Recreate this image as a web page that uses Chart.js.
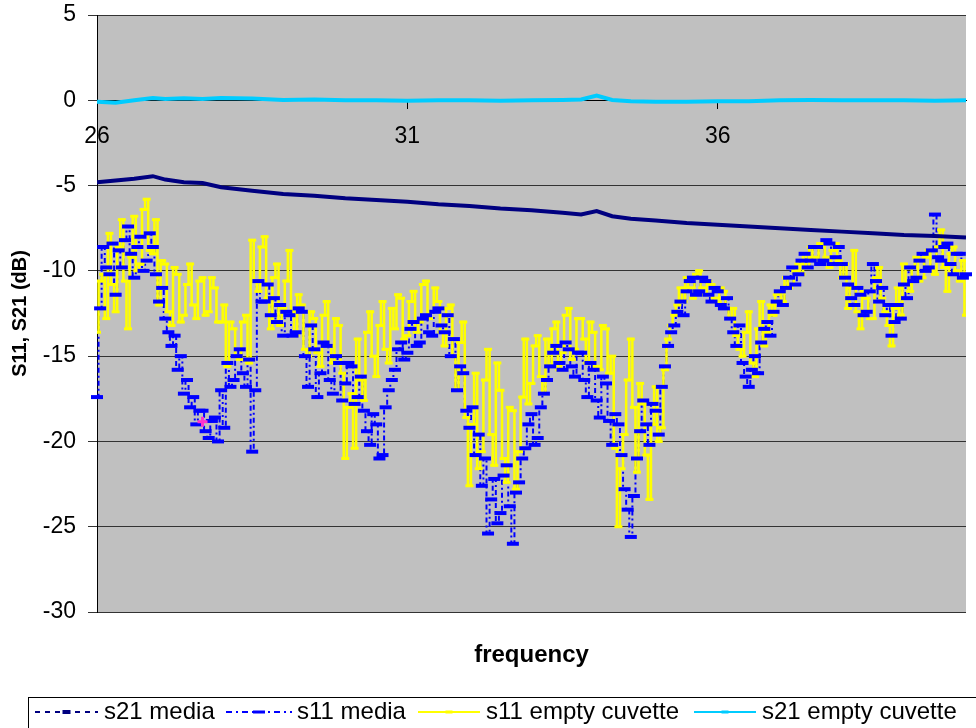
<!DOCTYPE html>
<html>
<head>
<meta charset="utf-8">
<script src="https://cdn.jsdelivr.net/npm/chart.js@4/dist/chart.umd.min.js"></script>
<style>
  html, body { margin: 0; padding: 0; background: #fff; }
  #wrap { width: 976px; height: 728px; }
</style>
</head>
<body>
<div id="wrap"><canvas id="c" width="976" height="728"></canvas></div>
<script>
// Sweep frequencies (GHz) for the reflection traces, one row per GHz
const freq = [
  26.00,26.05,26.10,26.15,26.20,26.25,26.30,26.35,26.40,26.45,26.50,26.55,26.60,26.65,26.70,26.75,26.80,26.85,26.90,26.95,
  27.00,27.05,27.10,27.15,27.20,27.25,27.30,27.35,27.40,27.45,27.50,27.55,27.60,27.65,27.70,27.75,27.80,27.85,27.90,27.95,
  28.00,28.05,28.10,28.15,28.20,28.25,28.30,28.35,28.40,28.45,28.50,28.55,28.60,28.65,28.70,28.75,28.80,28.85,28.90,28.95,
  29.00,29.05,29.10,29.15,29.20,29.25,29.30,29.35,29.40,29.45,29.50,29.55,29.60,29.65,29.70,29.75,29.80,29.85,29.90,29.95,
  30.00,30.05,30.10,30.15,30.20,30.25,30.30,30.35,30.40,30.45,30.50,30.55,30.60,30.65,30.70,30.75,30.80,30.85,30.90,30.95,
  31.00,31.05,31.10,31.15,31.20,31.25,31.30,31.35,31.40,31.45,31.50,31.55,31.60,31.65,31.70,31.75,31.80,31.85,31.90,31.95,
  32.00,32.05,32.10,32.15,32.20,32.25,32.30,32.35,32.40,32.45,32.50,32.55,32.60,32.65,32.70,32.75,32.80,32.85,32.90,32.95,
  33.00,33.05,33.10,33.15,33.20,33.25,33.30,33.35,33.40,33.45,33.50,33.55,33.60,33.65,33.70,33.75,33.80,33.85,33.90,33.95,
  34.00,34.05,34.10,34.15,34.20,34.25,34.30,34.35,34.40,34.45,34.50,34.55,34.60,34.65,34.70,34.75,34.80,34.85,34.90,34.95,
  35.00,35.05,35.10,35.15,35.20,35.25,35.30,35.35,35.40,35.45,35.50,35.55,35.60,35.65,35.70,35.75,35.80,35.85,35.90,35.95,
  36.00,36.05,36.10,36.15,36.20,36.25,36.30,36.35,36.40,36.45,36.50,36.55,36.60,36.65,36.70,36.75,36.80,36.85,36.90,36.95,
  37.00,37.05,37.10,37.15,37.20,37.25,37.30,37.35,37.40,37.45,37.50,37.55,37.60,37.65,37.70,37.75,37.80,37.85,37.90,37.95,
  38.00,38.05,38.10,38.15,38.20,38.25,38.30,38.35,38.40,38.45,38.50,38.55,38.60,38.65,38.70,38.75,38.80,38.85,38.90,38.95,
  39.00,39.05,39.10,39.15,39.20,39.25,39.30,39.35,39.40,39.45,39.50,39.55,39.60,39.65,39.70,39.75,39.80,39.85,39.90,39.95,
  40.00
];

// s11 with media in the cuvette (dB)
const s11Media = [
  -17.4,-12.2,-8.6,-9.8,-10.2,-8.4,-11.4,-8.8,-9.8,-8.2,-7.4,-9.0,-10.4,-8.6,-8.0,-10.0,-9.4,-7.8,-8.6,-10.2,
  -11.8,-11.0,-12.8,-13.6,-14.4,-13.8,-15.8,-15.0,-17.2,-16.4,-18.0,-17.4,-19.0,-18.2,-18.2,-19.4,-19.8,-18.8,-18.6,-20.0,
  -17.0,-19.2,-15.4,-16.8,-16.4,-15.0,-14.6,-16.0,-16.8,-15.2,-20.6,-17.0,-10.6,-11.8,-11.8,-10.8,-12.6,-11.6,-13.0,-12.0,
  -13.8,-12.4,-12.6,-13.8,-13.6,-12.2,-12.4,-15.0,-16.8,-13.2,-14.6,-17.4,-16.0,-14.2,-14.4,-16.4,-17.2,-15.0,-15.4,-17.6,
  -16.6,-15.4,-15.6,-17.8,-17.4,-16.2,-18.2,-19.4,-20.2,-18.4,-19.0,-21.0,-20.8,-18.0,-17.0,-16.4,-15.8,-14.6,-14.2,-15.2,
  -14.8,-13.4,-13.0,-14.4,-14.2,-12.8,-12.6,-13.6,-13.8,-12.4,-12.2,-13.2,-13.6,-12.6,-15.0,-14.0,-17.0,-15.6,-16.0,-18.2,
  -19.2,-18.0,-20.8,-19.6,-22.6,-21.0,-25.4,-23.4,-22.2,-24.8,-24.2,-22.0,-21.4,-23.8,-26.0,-23.0,-22.4,-21.0,-20.4,-19.0,
  -18.4,-20.2,-19.8,-18.0,-17.2,-16.4,-15.6,-14.8,-14.4,-15.4,-15.8,-14.2,-14.6,-15.6,-16.2,-14.8,-14.8,-16.4,-17.4,-15.4,
  -15.8,-17.6,-18.6,-16.2,-16.6,-18.8,-20.2,-18.4,-19.0,-20.8,-22.8,-24.0,-25.6,-23.2,-21.0,-19.4,-17.6,-19.0,-20.2,-17.8,
  -18.2,-19.6,-16.8,-15.6,-14.4,-13.6,-13.2,-12.4,-11.8,-12.6,-11.2,-10.6,-10.4,-11.4,-11.2,-10.4,-10.6,-11.4,-11.8,-11.0,
  -11.2,-12.0,-12.2,-11.6,-12.8,-13.6,-14.4,-13.2,-15.4,-16.2,-16.8,-15.8,-15.0,-16.0,-14.2,-13.4,-13.0,-13.8,-12.4,-11.8,
  -11.2,-12.0,-11.0,-10.4,-9.8,-10.8,-10.2,-9.4,-9.0,-9.8,-9.4,-8.6,-8.6,-9.6,-9.4,-8.2,-8.4,-9.6,-9.2,-8.6,
  -9.6,-10.4,-10.8,-11.6,-12.0,-11.0,-11.4,-12.6,-12.4,-11.2,-9.6,-10.6,-11.8,-11.0,-12.6,-12.0,-13.8,-13.0,-12.0,-12.8,
  -10.8,-11.6,-9.8,-10.6,-10.4,-9.4,-9.0,-10.0,-9.8,-8.8,-6.7,-9.2,-9.4,-8.6,-8.4,-9.6,-10.2,-9.0,-9.0,-10.4,
  -10.2
];

// s11 with the empty cuvette (dB)
const s11Empty = [
  -13.6,-10.6,-10.2,-12.8,-7.8,-10.8,-12.4,-8.6,-7.0,-10.6,-13.4,-9.2,-6.8,-10.0,-9.6,-6.4,-5.8,-8.8,-9.0,-7.0,
  -12.0,-9.4,-9.6,-12.4,-13.2,-9.8,-10.2,-13.0,-12.6,-10.8,-9.6,-12.0,-12.8,-10.6,-10.4,-12.6,-12.4,-10.4,-11.0,-13.0,
  -13.0,-12.0,-15.6,-13.0,-13.4,-15.0,-15.2,-13.0,-12.6,-15.4,-8.2,-10.6,-11.2,-8.6,-8.0,-11.6,-13.4,-10.4,-9.6,-13.2,
  -12.2,-10.6,-8.8,-12.4,-13.8,-11.4,-12.0,-14.6,-15.0,-12.4,-12.8,-14.8,-15.6,-12.6,-11.8,-14.4,-15.4,-12.8,-13.2,-16.0,
  -21.0,-18.0,-17.2,-20.4,-14.0,-16.4,-17.6,-13.6,-12.4,-15.0,-16.2,-13.2,-11.8,-14.6,-15.4,-12.2,-13.4,-11.4,-11.6,-14.0,
  -13.8,-11.8,-11.2,-13.6,-13.0,-10.8,-10.6,-12.8,-12.4,-11.0,-11.8,-13.6,-14.4,-12.2,-12.0,-15.0,-17.0,-14.2,-13.0,-18.6,
  -22.6,-19.0,-16.0,-21.6,-20.6,-16.4,-14.6,-19.6,-21.4,-15.4,-17.0,-21.0,-22.4,-18.0,-18.2,-22.8,-20.6,-17.4,-14.0,-17.8,
  -16.6,-14.4,-13.8,-16.2,-17.2,-14.0,-15.6,-13.4,-13.0,-15.8,-14.8,-12.6,-12.2,-15.2,-14.6,-12.8,-12.8,-14.0,-15.4,-13.0,
  -13.6,-15.6,-15.8,-13.2,-13.4,-16.0,-15.0,-20.4,-25.0,-21.6,-19.6,-16.4,-14.0,-18.0,-21.8,-16.6,-17.8,-20.8,-23.4,-19.0,
  -16.8,-20.0,-19.2,-15.8,-14.0,-13.2,-12.6,-12.0,-11.0,-11.8,-10.4,-11.0,-11.6,-10.2,-10.0,-11.0,-11.4,-10.6,-10.8,-11.6,
  -11.8,-11.0,-11.2,-12.2,-12.8,-12.2,-13.8,-14.6,-15.0,-13.6,-12.4,-15.4,-16.2,-13.4,-11.8,-14.4,-13.6,-12.0,-12.6,-11.4,
  -11.2,-11.8,-10.4,-11.0,-10.8,-10.0,-9.6,-10.2,-9.0,-9.8,-8.6,-9.2,-9.4,-8.4,-8.4,-9.2,-9.8,-8.8,-8.4,-9.4,
  -10.4,-9.6,-12.2,-11.0,-8.8,-12.4,-13.4,-11.2,-11.6,-12.8,-12.8,-10.4,-9.8,-11.6,-12.4,-13.2,-14.4,-12.2,-11.0,-12.6,
  -9.6,-10.8,-11.2,-9.8,-9.2,-10.6,-10.4,-9.2,-8.8,-10.0,-10.2,-8.6,-7.6,-9.8,-11.2,-9.0,-8.6,-10.0,-10.6,-9.4,
  -12.6
];

// Transmission traces are smooth, so a coarser sweep is enough
const transFreq = [
  26.0,26.3,26.6,26.9,27.1,27.4,27.7,28.0,28.5,29.0,
  29.5,30.0,30.5,31.0,31.5,32.0,32.5,33.0,33.5,33.8,
  34.05,34.3,34.6,35.0,35.5,36.0,36.5,37.0,37.5,38.0,
  38.5,39.0,39.5,40.0
];
const s21Media = [
  -4.8,-4.7,-4.6,-4.45,-4.65,-4.8,-4.85,-5.1,-5.3,-5.5,
  -5.6,-5.75,-5.85,-5.95,-6.1,-6.2,-6.35,-6.45,-6.6,-6.7,
  -6.5,-6.8,-6.95,-7.05,-7.2,-7.3,-7.4,-7.5,-7.6,-7.7,
  -7.8,-7.9,-7.95,-8.05
];
const s21Empty = [
  -0.08,-0.15,0.0,0.13,0.08,0.12,0.08,0.13,0.1,0.02,
  0.05,0.0,0.0,-0.02,0.0,0.0,-0.02,0.0,0.02,0.05,
  0.28,0.02,-0.05,-0.08,-0.08,-0.05,-0.05,0.0,0.02,0.0,
  0.0,0.0,-0.02,0.0
];

// Single highlighted reading on the s11 media trace
const flagged = [{ x: 27.7, y: -18.85 }];

const xTicks = [26, 31, 36];
const yMin = -30, yMax = 5, yStep = 5;

const FONT = 'Liberation Sans, Arial, Helvetica, sans-serif';
Chart.defaults.font.family = FONT;
Chart.defaults.color = '#000';

const pts = (xs, ys) => xs.map((x, i) => ({ x, y: ys[i] }));

// Legend entries: colour, dash pattern, marker size and placement
const legendItems = [
  { text: 's21 media', color: '#000080', dash: [5, 5], width: 2, mark: [8, 4], x0: 35, x1: 98, tx: 104 },
  { text: 's11 media', color: '#0000FF', dash: [6, 4, 2, 4], width: 2, mark: [12, 3], x0: 226, x1: 292, tx: 297 },
  { text: 's11 empty cuvette', color: '#FFFF00', dash: [], width: 2, mark: [7, 3], x0: 418, x1: 480, tx: 486 },
  { text: 's21 empty cuvette', color: '#00CCFF', dash: [], width: 2, mark: [7, 3], x0: 694, x1: 756, tx: 762 }
];

const framePlugin = {
  id: 'frame',
  beforeDraw(chart) {
    const { ctx, chartArea: a } = chart;
    ctx.save();
    ctx.fillStyle = '#fff';
    ctx.fillRect(0, 0, chart.width, chart.height);
    ctx.fillStyle = '#C0C0C0';
    ctx.fillRect(a.left, a.top, a.right - a.left, a.bottom - a.top);
    ctx.restore();
  },
  afterDraw(chart) {
    const { ctx, chartArea: a } = chart;
    ctx.save();
    // x-axis title
    ctx.fillStyle = '#000';
    ctx.font = 'bold 24px ' + FONT;
    ctx.textAlign = 'center';
    ctx.textBaseline = 'middle';
    ctx.fillText('frequency', (a.left + a.right) / 2, 655);

    // legend box
    ctx.strokeStyle = '#000';
    ctx.lineWidth = 1;
    ctx.strokeRect(28.5, 697.5, 1000, 60);
    const ly = 712;
    ctx.font = '24px ' + FONT;
    ctx.textAlign = 'left';
    legendItems.forEach(it => {
      ctx.strokeStyle = it.color;
      ctx.lineWidth = it.width;
      ctx.setLineDash(it.dash);
      ctx.beginPath();
      ctx.moveTo(it.x0, ly);
      ctx.lineTo(it.x1, ly);
      ctx.stroke();
      ctx.setLineDash([]);
      ctx.fillStyle = it.color;
      const cx = (it.x0 + it.x1) / 2;
      ctx.fillRect(cx - it.mark[0] / 2, ly - it.mark[1] / 2, it.mark[0], it.mark[1]);
      ctx.fillStyle = '#000';
      ctx.fillText(it.text, it.tx, ly);
    });
    ctx.restore();
  }
};

new Chart(document.getElementById('c'), {
  type: 'line',
  data: {
    datasets: [
      {
        label: 's21 empty cuvette',
        data: pts(transFreq, s21Empty),
        borderColor: '#00CCFF', borderWidth: 4,
        pointRadius: 0, order: 0
      },
      {
        label: 'flagged',
        data: flagged,
        showLine: false,
        pointStyle: 'cross', pointRadius: 5,
        pointBorderColor: '#FF33CC', pointBorderWidth: 3,
        order: 1
      },
      {
        label: 's11 media markers',
        data: pts(freq, s11Media),
        showLine: false,
        pointStyle: 'line', pointRadius: 6,
        pointBorderColor: '#0000FF', pointBackgroundColor: '#0000FF', pointBorderWidth: 4,
        clip: false, order: 2
      },
      {
        label: 's21 media',
        data: pts(transFreq, s21Media),
        borderColor: '#000080', borderWidth: 4,
        pointRadius: 0, order: 3
      },
      {
        label: 's11 empty cuvette',
        data: pts(freq, s11Empty),
        stepped: 'middle',
        borderColor: '#FFFF00', borderWidth: 2.5,
        pointStyle: 'line', pointRadius: 4,
        pointBorderColor: '#FFFF00', pointBackgroundColor: '#FFFF00', pointBorderWidth: 3,
        order: 4
      },
      {
        label: 's11 media',
        data: pts(freq, s11Media),
        stepped: 'middle',
        borderColor: '#0000FF', borderWidth: 2, borderDash: [5, 3, 2, 3],
        pointRadius: 0, order: 5
      }
    ]
  },
  options: {
    responsive: false,
    animation: false,
    devicePixelRatio: 1,
    layout: { padding: { top: 15, right: 0, bottom: 116, left: 0 } },
    elements: { line: { tension: 0 } },
    plugins: { legend: { display: false }, tooltip: { enabled: false } },
    scales: {
      x: {
        type: 'linear',
        min: 26, max: 40,
        position: { y: 0 },
        afterBuildTicks: s => { s.ticks = xTicks.map(v => ({ value: v })); },
        grid: { display: true, drawOnChartArea: false, drawTicks: true, tickLength: 8, color: '#000' },
        border: { display: true, color: '#000', width: 1 },
        ticks: { font: { size: 23 }, padding: 15, color: '#000', maxRotation: 0 }
      },
      y: {
        min: yMin, max: yMax,
        afterFit: s => { s.width = 97; s.paddingTop = 10; s.paddingBottom = 10; },
        ticks: { stepSize: yStep, font: { size: 23 }, padding: 12, color: '#000' },
        grid: { color: '#333', lineWidth: 1, tickLength: 9 },
        border: { display: true, color: '#000', width: 1 },
        title: {
          display: true, text: 'S11, S21 (dB)',
          font: { size: 20, weight: 'bold' }, color: '#000',
          padding: { top: 8, bottom: 0 }
        }
      }
    }
  },
  plugins: [framePlugin]
});
</script>
</body>
</html>
